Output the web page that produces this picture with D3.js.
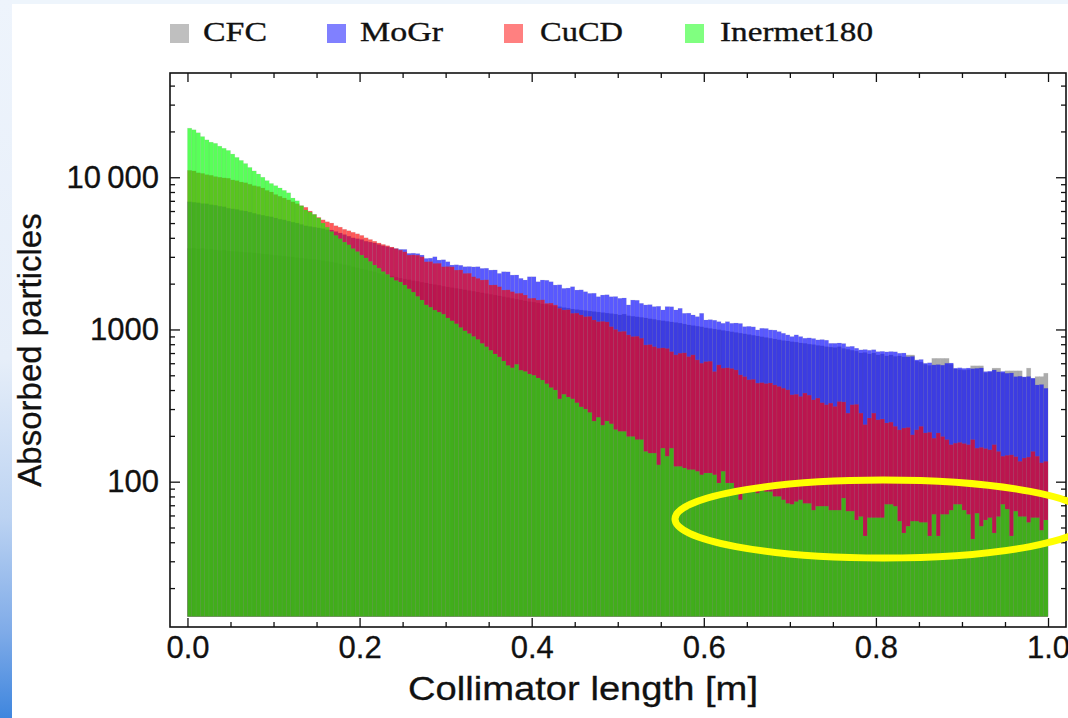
<!DOCTYPE html>
<html><head><meta charset="utf-8">
<script src="https://cdn.jsdelivr.net/npm/d3@7/dist/d3.min.js"></script>
<style>body{margin:0;background:#fff}svg{display:block}</style>
</head><body>
<svg id="c" width="1068" height="718"></svg>
<script>
// ---------- data (histogram counts, 200 bins of 0.005 m) ----------
const binWidth = 0.005;
const seriesNames = ["CFC", "MoGr", "CuCD", "Inermet180"];

const CFC = [
3400,3420,3380,3410,3350,3370,3330,3300,3320,3280,
3260,3250,3230,3210,3200,3180,3160,3130,3120,3090,
3070,3050,3030,3010,2990,2960,2940,2920,2890,2880,
2860,2830,2800,2770,2740,2700,2660,2630,2580,2540,
2500,2470,2420,2390,2340,2300,2270,2240,2200,2170,
2140,2120,2090,2070,2040,2020,1990,1970,1950,1920,
1900,1880,1860,1840,1820,1800,1780,1760,1740,1720,
1700,1680,1660,1640,1620,1600,1580,1560,1540,1520,
1510,1490,1470,1460,1440,1420,1410,1390,1380,1360,
1350,1340,1330,1320,1310,1300,1290,1280,1270,1260,
1245,1260,1230,1220,1210,1200,1190,1175,1165,1150,
1140,1130,1120,1110,1100,1085,1070,1060,1050,1040,
1025,1015,1005,995,985,975,965,955,945,935,
925,915,905,895,885,875,865,855,845,840,
830,825,815,810,800,795,785,780,770,765,
760,770,750,740,730,720,700,705,690,700,
680,690,670,680,665,670,660,680,680,620,
610,590,580,646,646,646,646,590,550,545,
540,545,577,577,577,520,525,557,557,520,
535,535,535,535,485,557,475,490,490,516];

const MoGr = [
6900,6850,6800,6720,6700,6600,6550,6450,6400,6260,
6200,6150,6050,6000,5900,5800,5700,5630,5550,5500,
5400,5300,5250,5150,5070,5000,4900,4800,4750,4700,
4650,4600,4520,4500,4400,4300,4200,4100,4000,3950,
3900,3800,3750,3700,3620,3550,3500,3450,3400,3360,
3357,3160,3170,3150,3081,2928,2940,3002,2856,2870,
2785,2649,2660,2640,2583,2590,2575,2583,2519,2525,
2455,2460,2335,2394,2390,2276,2280,2166,2112,2219,
2219,2058,2112,2105,2058,1958,1965,1862,1870,1909,
1815,1820,1770,1726,1730,1641,1683,1690,1641,1645,
1602,1610,1449,1560,1555,1485,1449,1455,1413,1420,
1343,1413,1410,1343,1377,1277,1280,1245,1214,1277,
1154,1160,1150,1125,1098,1125,1098,1102,1095,1043,
1048,1040,993,1018,1015,993,990,968,944,921,
898,921,898,876,880,872,854,858,850,811,
811,815,808,771,775,753,734,738,730,736,
715,718,712,716,713,698,700,663,666,631,
635,600,604,585,588,583,600,602,557,560,
555,558,553,556,559,529,532,542,527,530,
516,518,490,493,488,491,479,432,435,411];

const CuCD = [
11100,11000,10700,10600,10400,10300,10100,10000,9900,9850,
9600,9500,9300,9200,9000,8800,8700,8500,8200,8000,
7700,7500,7300,7100,6900,6700,6500,6350,6000,5700,
5450,5250,5100,5000,4800,4700,4550,4450,4350,4250,
4150,4000,3900,3800,3700,3620,3550,3480,3400,3320,
3236,3081,3090,3075,3002,2785,2790,2717,2720,2583,
2590,2578,2455,2460,2335,2340,2219,2166,2112,2118,
1958,1962,1909,1815,1820,1770,1726,1730,1683,1602,
1606,1560,1565,1485,1490,1449,1377,1343,1348,1277,
1280,1245,1214,1218,1154,1125,1130,1121,1043,1000,
968,972,921,898,902,876,791,795,771,753,
757,750,715,681,698,702,663,681,631,600,
615,618,529,585,557,560,554,542,503,490,
467,470,444,447,441,445,432,422,411,401,
372,375,363,382,370,345,354,330,320,328,
312,336,334,282,320,322,282,237,262,282,
255,258,243,246,231,219,225,227,203,219,
231,209,211,193,209,198,189,175,179,181,
178,175,189,166,168,165,162,175,158,147,
149,150,146,136,143,145,158,147,133,136];

const Inermet180 = [
21000,20500,19600,18500,17600,17000,16700,16000,15500,15000,
14200,13500,12900,12300,11600,11000,10500,10000,9500,9100,
8800,8500,8200,7900,7300,7000,6500,6100,5900,5700,
5400,5000,4700,4400,4150,3950,3750,3600,3400,3250,
3080,2950,2800,2650,2530,2400,2300,2200,2100,2050,
1958,1850,1760,1650,1560,1450,1400,1340,1300,1260,
1190,1140,1090,1030,980,940,900,860,810,770,
730,690,660,620,580,560,590,540,530,510,
500,480,465,440,415,400,350,375,360,350,
330,310,300,285,250,265,235,250,240,220,
214,214,198,198,189,189,158,154,154,129,
166,147,166,126,126,123,120,120,117,111,
114,114,111,98,117,98,98,91,76,89,
89,89,84,91,86,86,80,80,76,72,
71,74,76,72,72,65,69,69,69,65,
65,65,78,64,64,56,59,44,58,58,
58,58,71,71,69,55,46,51,55,55,
54,54,44,61,44,61,61,65,71,71,
65,61,42,62,51,56,58,46,59,71,
66,44,64,59,59,54,58,58,48,56];

const seriesValues = [CFC, MoGr, CuCD, Inermet180];
const barColors = ["#808080", "#0000ff", "#ff0000", "#00ff00"];
const legendColors = ["#bfbfbf", "#8080ff", "#ff8080", "#80ff80"];

const xTickValues = [0, 0.2, 0.4, 0.6, 0.8, 1.0];
const xTickLabels = ["0.0", "0.2", "0.4", "0.6", "0.8", "1.0"];
const xMinorTicks = [0.05,0.1,0.15,0.25,0.3,0.35,0.45,0.5,0.55,0.65,0.7,0.75,0.85,0.9,0.95];
const yTickValues = [100, 1000, 10000];
const yTickLabels = ["100", "1000", "10\u2009000"];
const yMinorTicks = [20,30,40,50,60,70,80,90,200,300,400,500,600,700,800,900,
                     2000,3000,4000,5000,6000,7000,8000,9000,20000,30000,40000];
const xTitle = "Collimator length [m]";
const yTitle = "Absorbed particles";
const barBase = 13;

// ---------- layout ----------
const L = 170, R = 1066, T = 73, B = 627;
const svg = d3.select("#c");

// slide background
const defs = svg.append("defs");
const g1 = defs.append("linearGradient").attr("id","side").attr("x1",0).attr("y1",0).attr("x2",0).attr("y2",1);
[[0,"#eef4fc"],[0.5,"#e6eef9"],[0.72,"#bcd3f2"],[0.88,"#7fabe8"],[1,"#3f86de"]].forEach(s=>
  g1.append("stop").attr("offset",s[0]).attr("stop-color",s[1]));
svg.append("rect").attr("x",0).attr("y",0).attr("width",1068).attr("height",718).attr("fill","#fff");
svg.append("rect").attr("x",0).attr("y",0).attr("width",1068).attr("height",4).attr("fill","#eef5fc");
svg.append("rect").attr("x",0).attr("y",0).attr("width",12).attr("height",718).attr("fill","url(#side)");

const x = d3.scaleLinear().domain([-0.0203, 1.0209]).range([L, R]);
const y = d3.scaleLog().domain([11.1, 48400]).range([B, T]);

defs.append("clipPath").attr("id","plot").append("rect")
  .attr("x",L).attr("y",T).attr("width",R-L).attr("height",B-T);

const plot = svg.append("g").attr("clip-path","url(#plot)");
seriesValues.forEach((vals, si) => {
  plot.append("g")
    .selectAll("rect").data(vals).join("rect")
    .attr("x", (d,i) => x(i*binWidth))
    .attr("width", (d,i) => x((i+1)*binWidth) - x(i*binWidth))
    .attr("y", d => y(d))
    .attr("height", d => y(barBase) - y(d))
    .attr("fill", barColors[si])
    .attr("fill-opacity", 0.65)
    .attr("stroke", "#8a8a8a")
    .attr("stroke-opacity", 0.18)
    .attr("stroke-width", 0.6);
});

// ---------- axes / frame ----------
const font = "'Liberation Sans', Arial, Helvetica, sans-serif";
function styleAxis(g){
  g.select(".domain").remove();
  g.selectAll(".tick line").attr("stroke","#111").attr("stroke-width",1.3);
  g.selectAll("text").attr("font-family",font).attr("font-size",31).attr("fill","#111")
    .attr("stroke","#111").attr("stroke-width",0.3);
}
svg.append("g").attr("transform",`translate(0,${B})`)
  .call(d3.axisBottom(x).tickValues(xTickValues).tickSize(-9).tickPadding(9)
        .tickFormat((d,i)=>xTickLabels[i])).call(styleAxis);
svg.append("g").attr("transform",`translate(0,${B})`)
  .call(d3.axisBottom(x).tickValues(xMinorTicks).tickSize(-5).tickFormat("")).call(styleAxis);
svg.append("g").attr("transform",`translate(0,${T})`)
  .call(d3.axisTop(x).tickValues(xTickValues).tickSize(-9).tickFormat("")).call(styleAxis);
svg.append("g").attr("transform",`translate(0,${T})`)
  .call(d3.axisTop(x).tickValues(xMinorTicks).tickSize(-5).tickFormat("")).call(styleAxis);
svg.append("g").attr("transform",`translate(${L},0)`)
  .call(d3.axisLeft(y).tickValues(yTickValues).tickSize(-10).tickPadding(11)
        .tickFormat((d,i)=>yTickLabels[i])).call(styleAxis);
svg.append("g").attr("transform",`translate(${L},0)`)
  .call(d3.axisLeft(y).tickValues(yMinorTicks).tickSize(-5).tickFormat("")).call(styleAxis);
svg.append("g").attr("transform",`translate(${R},0)`)
  .call(d3.axisRight(y).tickValues(yTickValues).tickSize(-10).tickFormat("")).call(styleAxis);
svg.append("g").attr("transform",`translate(${R},0)`)
  .call(d3.axisRight(y).tickValues(yMinorTicks).tickSize(-5).tickFormat("")).call(styleAxis);
svg.append("rect").attr("x",L).attr("y",T).attr("width",R-L).attr("height",B-T)
  .attr("fill","none").attr("stroke","#111").attr("stroke-width",1.6);

// titles
svg.append("text").attr("x",583).attr("y",700).attr("text-anchor","middle")
  .attr("font-family",font).attr("font-size",33).attr("fill","#111")
  .attr("stroke","#111").attr("stroke-width",0.3)
  .attr("textLength",350).attr("lengthAdjust","spacingAndGlyphs").text(xTitle);
svg.append("text").attr("transform","translate(41,350) rotate(-90)").attr("text-anchor","middle")
  .attr("font-family",font).attr("font-size",33).attr("fill","#111")
  .attr("stroke","#111").attr("stroke-width",0.3).text(yTitle);

// legend
const legX = [170, 327, 504, 685];
const legTextX = [203, 360, 540, 720];
const legTextW = [64, 83, 83, 153];
const leg = svg.append("g");
seriesNames.forEach((n,i)=>{
  leg.append("rect").attr("x",legX[i]).attr("y",24).attr("width",19).attr("height",19).attr("fill",legendColors[i]);
  leg.append("text").attr("x",legTextX[i]).attr("y",41)
    .attr("font-family","'Liberation Serif', 'Times New Roman', serif").attr("font-size",28).attr("fill","#111")
    .attr("stroke","#111").attr("stroke-width",0.35)
    .attr("textLength",legTextW[i]).attr("lengthAdjust","spacingAndGlyphs").text(n);
});

// yellow highlight ellipse
svg.append("ellipse").attr("cx",883).attr("cy",519).attr("rx",208).attr("ry",39)
  .attr("fill","none").attr("stroke","#ffff00").attr("stroke-width",7);
</script>
</body></html>
